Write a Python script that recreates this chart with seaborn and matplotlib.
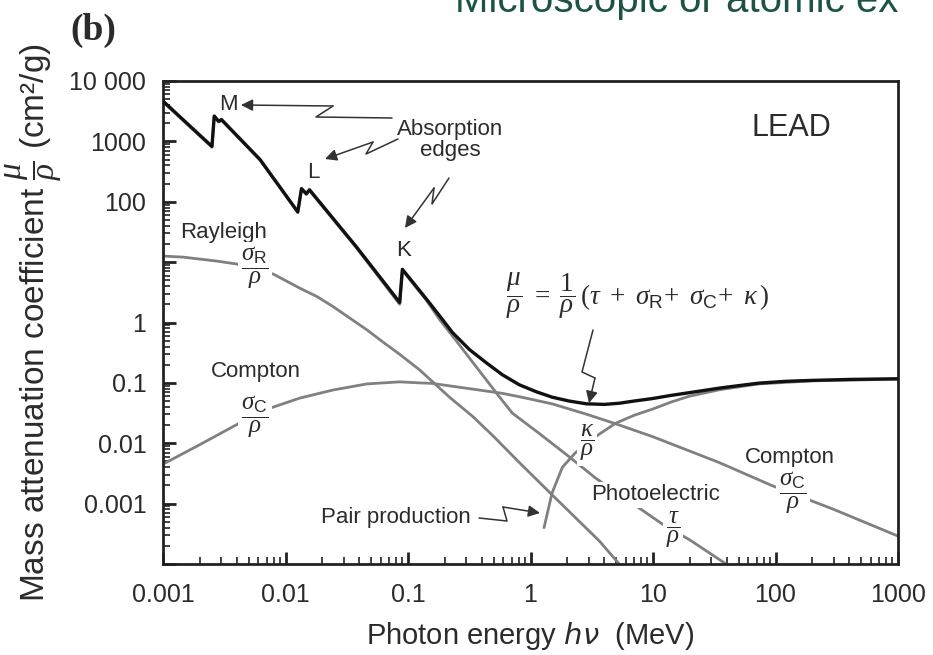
import numpy as np
import pandas as pd
import matplotlib
matplotlib.use("Agg")
import matplotlib.pyplot as plt
import seaborn as sns
from matplotlib.lines import Line2D

# ---------------- data ----------------
E_total = [0.001, 0.00251, 0.00262, 0.00285, 0.00300, 0.0062, 0.0126, 0.0135, 0.0148, 0.0157,
           0.038, 0.0855, 0.0900, 0.142, 0.181, 0.231, 0.318, 0.436, 0.59, 0.81, 1.12, 1.5,
           2.07, 2.86, 4.0, 5.3, 7.0, 9.9, 14, 20.9, 35, 50, 73, 120, 200, 400, 1000]
mu_total = [4650, 825, 2630, 2150, 2300, 500, 68, 165, 136, 158,
            17.8, 2.15, 7.6, 2.42, 1.29, 0.68, 0.355, 0.215, 0.136, 0.093, 0.071, 0.058,
            0.050, 0.045, 0.044, 0.046, 0.050, 0.055, 0.062, 0.070, 0.082, 0.090, 0.099, 0.106,
            0.110, 0.114, 0.117]

E_photo = [0.001, 0.00251, 0.00262, 0.00285, 0.00300, 0.0062, 0.0126, 0.0135, 0.0148, 0.0157,
           0.038, 0.0855, 0.0900, 0.142, 0.181, 0.249, 0.36, 0.56, 0.71, 1.18, 2.0, 3.44, 6.0,
           11.9, 20, 39.5]
tau_photo = [4500, 800, 2560, 2090, 2240, 488, 66, 160, 132, 153,
             17.2, 2.0, 7.3, 2.3, 1.12, 0.49, 0.185, 0.058, 0.0316, 0.0145, 0.0063, 0.0026,
             0.0012, 0.00046, 0.00025, 0.0001]

E_rayleigh = [0.001, 0.00146, 0.00275, 0.004, 0.008, 0.0131, 0.018, 0.0243, 0.046, 0.062,
              0.085, 0.124, 0.218, 0.336, 0.49, 0.81, 1.5, 3.65, 5.3]
sigma_R = [12.6, 12.1, 10.4, 9.3, 6.3, 3.7, 2.7, 1.85, 0.76, 0.48,
           0.30, 0.165, 0.058, 0.028, 0.0135, 0.0048, 0.0014, 0.00024, 0.0001]

E_compton = [0.001, 0.002, 0.0042, 0.00745, 0.0131, 0.0243, 0.046, 0.085, 0.124, 0.158, 0.4,
             0.59, 0.81, 1.18, 1.5, 2.9, 4.8, 10, 34.6, 93, 300, 1000]
sigma_C = [0.0045, 0.0095, 0.0215, 0.038, 0.056, 0.076, 0.096, 0.104, 0.100, 0.098, 0.075,
           0.067, 0.059, 0.050, 0.045, 0.030, 0.0215, 0.0128, 0.0048, 0.0020, 0.0008, 0.00029]

E_pair = [1.29, 1.5, 1.82, 2.3, 2.86, 3.8, 4.97, 7.0, 10, 14, 19.7, 35, 73, 200, 1000]
kappa = [0.0004, 0.0015, 0.0040, 0.0068, 0.010, 0.015, 0.0215, 0.029, 0.037, 0.048, 0.060,
         0.077, 0.096, 0.108, 0.115]

x_ticks = [0.001, 0.01, 0.1, 1, 10, 100, 1000]
x_ticklabels = ["0.001", "0.01", "0.1", "1", "10", "100", "1000"]
y_ticks = [1e4, 1e3, 1e2, 1e1, 1, 0.1, 0.01, 0.001, 1e-4]
y_ticklabels = ["10 000", "1000", "100", "", "1", "0.1", "0.01", "0.001", ""]

# ---------------- style ----------------
sns.set_style("ticks")
plt.rcParams['font.family'] = ['Liberation Sans', 'DejaVu Sans']
plt.rcParams['mathtext.fontset'] = 'custom'
plt.rcParams['mathtext.rm'] = 'Liberation Serif'
plt.rcParams['mathtext.it'] = 'Liberation Serif:italic'
plt.rcParams['mathtext.bf'] = 'Liberation Serif:bold'
plt.rcParams['mathtext.sf'] = 'Liberation Sans'

W, H = 933, 655
TXT = '#2b2b2b'
GRAY = '#808080'

fig = plt.figure(figsize=(W / 100, H / 100), dpi=100)
ax = fig.add_axes([163 / W, 1 - 564 / H, (898 - 163) / W, (564 - 81) / H])


def fx(px):
    return px / W


def fy(py):
    return 1 - py / H


def draw(E, v, color, lw, z):
    df = pd.DataFrame({"E": E, "v": v})
    sns.lineplot(data=df, x="E", y="v", ax=ax, color=color, lw=lw, sort=False,
                 estimator=None, zorder=z, legend=False)


draw(E_rayleigh, sigma_R, GRAY, 2.0, 2)
draw(E_compton, sigma_C, GRAY, 2.0, 2)
draw(E_pair, kappa, GRAY, 2.0, 2)
draw(E_photo, tau_photo, GRAY, 2.0, 2)
draw(E_total, mu_total, '#111111', 2.4, 3)

ax.set_xscale('log')
ax.set_yscale('log')
ax.set_xlim(1e-3, 1e3)
ax.set_ylim(1e-4, 1e4)
ax.set_xticks(x_ticks)
ax.set_xticklabels(x_ticklabels)
ax.set_yticks(y_ticks)
ax.set_yticklabels(y_ticklabels)
ax.xaxis.set_minor_locator(matplotlib.ticker.LogLocator(base=10, subs=np.arange(2, 10), numticks=20))
ax.yaxis.set_minor_locator(matplotlib.ticker.LogLocator(base=10, subs=np.arange(2, 10), numticks=20))
ax.xaxis.set_minor_formatter(matplotlib.ticker.NullFormatter())
ax.yaxis.set_minor_formatter(matplotlib.ticker.NullFormatter())
ax.tick_params(which='both', direction='in', top=False, right=False, colors='#222222',
               labelcolor=TXT)
ax.tick_params(which='major', length=9, width=2.0, labelsize=18)
ax.tick_params(which='minor', length=5, width=1.2)
ax.tick_params(axis='y', which='major', pad=12)
ax.tick_params(axis='x', which='major', pad=14)
for s in ax.spines.values():
    s.set_linewidth(2.0)
    s.set_color('#222222')
    s.set_visible(True)

ax.set_xlabel(r"Photon energy $h\nu$  (MeV)", fontsize=21, color=TXT, labelpad=9,
              math_fontfamily='dejavusans')
ax.set_ylabel(r"Mass attenuation coefficient $\dfrac{\mu}{\rho}$ (cm²/g)", fontsize=24,
              color=TXT, labelpad=4)

# ---------------- texts ----------------
box = dict(boxstyle='square,pad=0.12', fc='white', ec='none')


def t(px, py, s, size, ha='center', va='center', **kw):
    fig.text(fx(px), fy(py), s, fontsize=size, ha=ha, va=va, color=TXT, **kw)


t(93, 30, "(b)", 27, family='Liberation Serif', weight='bold')
fig.text(fx(455), fy(12), "Microscopic or atomic ex", fontsize=29, color='#1d5346',
         ha='left', va='baseline')

t(228, 105, "M", 16)
t(313, 172, "L", 16)
t(404, 251, "K", 16)
t(450, 140, "Absorption\nedges", 16, linespacing=1.05)
t(791, 128, "LEAD", 22)
t(224, 232, "Rayleigh", 16)
t(256, 372, "Compton", 16)
t(396, 517, "Pair production", 16)
t(656, 495, "Photoelectric", 16, bbox=box)
t(790, 457, "Compton", 16)

t(255, 268, r"$\dfrac{\sigma_{\mathsf{R}}}{\rho}$", 18, bbox=box)
t(255, 417, r"$\dfrac{\sigma_{\mathsf{C}}}{\rho}$", 18, bbox=box)
t(793, 493, r"$\dfrac{\sigma_{\mathsf{C}}}{\rho}$", 18, bbox=box)
t(673, 530, r"$\dfrac{\tau}{\rho}$", 18, bbox=box)
t(587, 443, r"$\dfrac{\kappa}{\rho}$", 18, bbox=box)
t(506, 296, r"$\dfrac{\mu}{\rho}\ =\ \dfrac{1}{\rho}\,(\tau\ +\ \sigma_{\mathsf{R}}\!+\ \sigma_{\mathsf{C}}\!+\ \kappa\,)$",
  19.5, ha='left')


# ---------------- squiggly arrows ----------------
def squiggle(pts):
    xs = [fx(p[0]) for p in pts[:-1]]
    ys = [fy(p[1]) for p in pts[:-1]]
    fig.add_artist(Line2D(xs, ys, transform=fig.transFigure, color='#333333', lw=1.1))
    fig.add_artist(matplotlib.patches.FancyArrowPatch(
        (fx(pts[-2][0]), fy(pts[-2][1])), (fx(pts[-1][0]), fy(pts[-1][1])),
        transform=fig.transFigure, arrowstyle='-|>,head_length=7,head_width=3.5',
        color='#333333', lw=1.1, shrinkA=0, shrinkB=0))


squiggle([(392, 118), (316, 117), (333, 106), (241, 105)])
squiggle([(398, 139), (366, 154), (373, 142), (325, 159)])
squiggle([(449, 178), (432, 204), (434, 188), (405, 228)])
squiggle([(593, 330), (582, 372), (595, 378), (589, 403)])
squiggle([(479, 518), (507, 521), (503, 507), (540, 513)])

fig.savefig("out.png", dpi=100)
